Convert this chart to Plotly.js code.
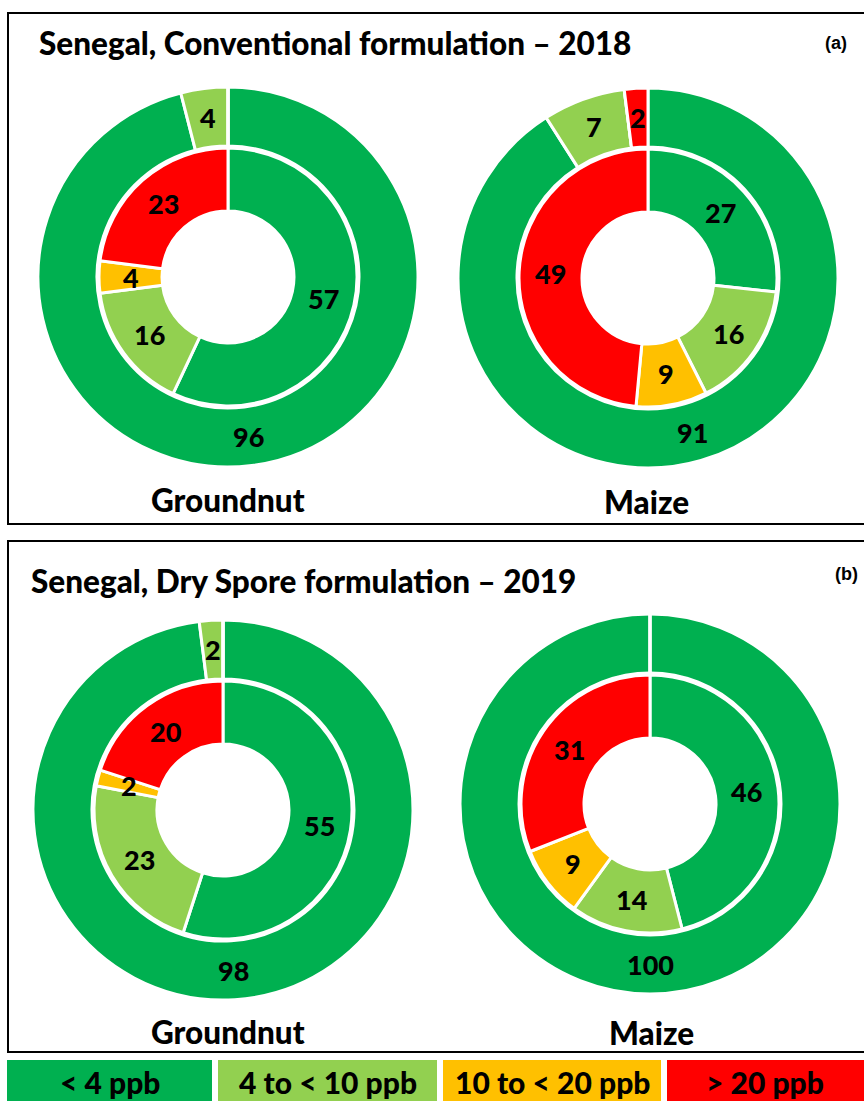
<!DOCTYPE html>
<html>
<head>
<meta charset="utf-8">
<script src="https://cdn.plot.ly/plotly-3.0.1.min.js"></script>
<style>html,body{margin:0;padding:0;background:#fff;}#chart{width:864px;height:1101px;}</style>
</head>
<body>
<div id="chart"></div>
<script>
// ---------- data ----------
const categories = ['< 4 ppb', '4 to < 10 ppb', '10 to < 20 ppb', '> 20 ppb'];
const colors = ['#00B050', '#92D050', '#FFC000', '#FF0000'];
const crops = ['Groundnut', 'Maize'];
const panelTitles = ['Senegal, Conventional formulation \u2013 2018', 'Senegal, Dry Spore formulation \u2013 2019'];
const panelTags = ['(a)', '(b)'];
const groundnut2018Outer = [96, 4, 0, 0];
const groundnut2018Inner = [57, 16, 4, 23];
const maize2018Outer = [91, 7, 0, 2];
const maize2018Inner = [27, 16, 9, 49];
const groundnut2019Outer = [98, 2, 0, 0];
const groundnut2019Inner = [55, 23, 2, 20];
const maize2019Outer = [100, 0, 0, 0];
const maize2019Inner = [46, 14, 9, 31];

// ---------- layout geometry (pixels) ----------
const W = 864, H = 1101;
const R_OUT = 190, R_OUT_HOLE = 131, R_IN = 129, R_IN_HOLE = 66;
const donuts = [
  {outer: groundnut2018Outer, inner: groundnut2018Inner, cx: 228, cy: 277},
  {outer: maize2018Outer, inner: maize2018Inner, cx: 648, cy: 278},
  {outer: groundnut2019Outer, inner: groundnut2019Inner, cx: 223, cy: 810},
  {outer: maize2019Outer, inner: maize2019Inner, cx: 650, cy: 804}
];
const px = x => x / W;
const py = y => 1 - y / H;

const FAM = 'Lato, "Open Sans", sans-serif';
const numFont = {family: FAM, size: 27, color: '#000', weight: 900};
const legFont = {family: FAM, size: 30, color: '#000', weight: 900};
const bigFont = {family: FAM, size: 31.5, color: '#000', weight: 900};
const tagFont = {family: '"Liberation Sans", Arial, sans-serif', size: 18, color: '#000', weight: 'bold'};

const traces = [];
const annotations = [];

function ring(values, cx, cy, r, hole) {
  traces.push({
    type: 'pie', values: values, labels: categories, sort: false,
    direction: 'clockwise', rotation: 0, hole: hole,
    marker: {colors: colors, line: {color: '#ffffff', width: 3}},
    textinfo: 'none', hoverinfo: 'label+value', showlegend: false,
    domain: {x: [px(cx - r), px(cx + r)], y: [py(cy + r), py(cy - r)]}
  });
  const total = values.reduce((a, b) => a + b, 0);
  const rm = (r + r * hole) / 2;
  let cum = 0;
  values.forEach(v => {
    if (v > 0) {
      const ang = (cum + v / 2) / total * 2 * Math.PI;
      annotations.push({
        xref: 'paper', yref: 'paper', showarrow: false,
        x: px(cx + rm * Math.sin(ang)), y: py(cy - rm * Math.cos(ang)),
        xanchor: 'center', yanchor: 'middle', text: String(v), font: numFont
      });
    }
    cum += v;
  });
}

donuts.forEach(d => {
  ring(d.outer, d.cx, d.cy, R_OUT, R_OUT_HOLE / R_OUT);
  ring(d.inner, d.cx, d.cy, R_IN, R_IN_HOLE / R_IN);
});

// panel titles / tags / crop names
const titlePos = [{x: 37, y: 43}, {x: 29, y: 581}];
const tagPos = [{x: 836, y: 43}, {x: 846, y: 574}];
const cropPos = [[{x: 228, y: 500}, {x: 646, y: 502}], [{x: 228, y: 1032}, {x: 651, y: 1033}]];
panelTitles.forEach((t, i) => {
  annotations.push({xref: 'paper', yref: 'paper', showarrow: false, x: px(titlePos[i].x), y: py(titlePos[i].y),
    xanchor: 'left', yanchor: 'middle', text: t, font: bigFont});
  annotations.push({xref: 'paper', yref: 'paper', showarrow: false, x: px(tagPos[i].x), y: py(tagPos[i].y),
    xanchor: 'center', yanchor: 'middle', text: panelTags[i], font: tagFont});
  crops.forEach((c, j) => {
    annotations.push({xref: 'paper', yref: 'paper', showarrow: false, x: px(cropPos[i][j].x), y: py(cropPos[i][j].y),
      xanchor: 'center', yanchor: 'middle', text: c, font: bigFont});
  });
});

// panel frames
const shapes = [
  {type: 'rect', xref: 'paper', yref: 'paper', x0: px(8), x1: px(880), y0: py(524), y1: py(13), line: {color: '#000', width: 2}},
  {type: 'rect', xref: 'paper', yref: 'paper', x0: px(8), x1: px(880), y0: py(1052), y1: py(541), line: {color: '#000', width: 2}}
];
// colour legend boxes
const legendBoxes = [[7, 212], [218, 437], [443, 661], [667, 880]];
categories.forEach((c, i) => {
  shapes.push({type: 'rect', xref: 'paper', yref: 'paper', x0: px(legendBoxes[i][0]), x1: px(legendBoxes[i][1]),
    y0: py(1110), y1: py(1060), fillcolor: colors[i], line: {width: 0}});
  const cxl = i === 3 ? 765 : (legendBoxes[i][0] + legendBoxes[i][1]) / 2;
  annotations.push({xref: 'paper', yref: 'paper', showarrow: false, x: px(cxl), y: py(1082),
    xanchor: 'center', yanchor: 'middle', text: c, font: legFont});
});

const layout = {
  width: W, height: H, margin: {l: 0, r: 0, t: 0, b: 0},
  paper_bgcolor: '#fff', plot_bgcolor: '#fff', showlegend: false,
  shapes: shapes, annotations: annotations
};
Plotly.newPlot('chart', traces, layout, {displayModeBar: false, staticPlot: true});
</script>
</body>
</html>
